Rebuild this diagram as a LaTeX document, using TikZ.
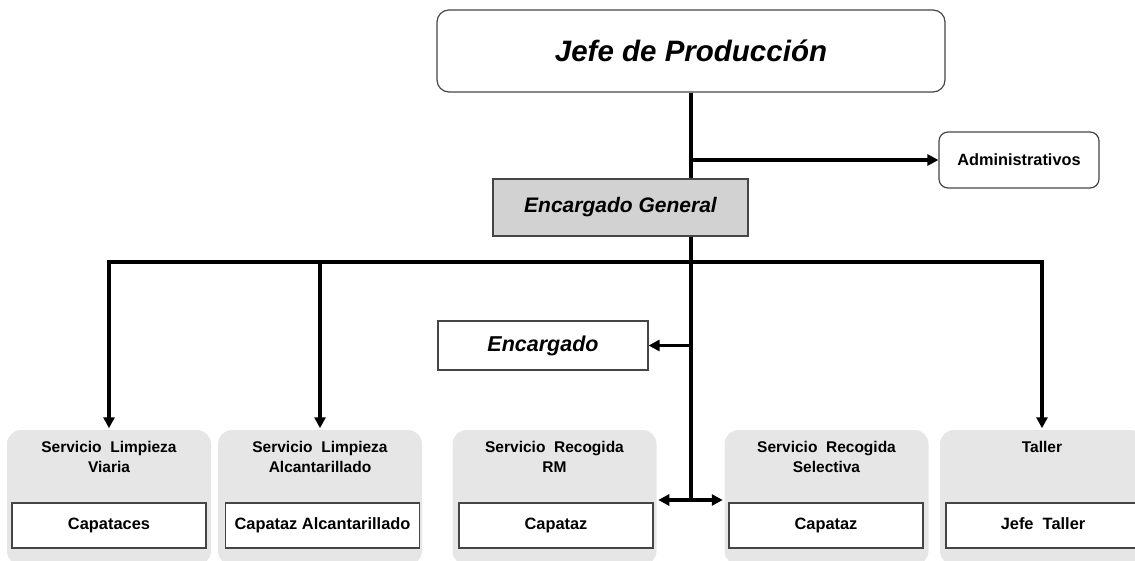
\documentclass[tikz,border=0pt]{standalone}
\usepackage{fontspec}
\setmainfont{Liberation Sans}
\usetikzlibrary{arrows.meta}
\definecolor{boxgray}{HTML}{D2D2D2}
\definecolor{groupgray}{HTML}{E6E6E6}
\definecolor{edgegray}{HTML}{454545}
\begin{document}
\begin{tikzpicture}[x=1pt,y=-1pt,line width=3.5pt,>={Triangle[length=11pt,width=11pt]},
headblock/.style={draw=edgegray,line width=1.2pt,rounded corners=12pt,inner sep=0pt,minimum width=508pt,minimum height=82pt,font=\fontsize{29.5}{34}\selectfont\bfseries\itshape},
adminblock/.style={draw=edgegray,line width=1.2pt,rounded corners=9pt,inner sep=0pt,minimum width=160pt,minimum height=56pt,font=\fontsize{16.3}{19}\selectfont\bfseries},
genblock/.style={draw=edgegray,fill=boxgray,line width=1.2pt,inner sep=0pt,minimum width=255pt,minimum height=57pt,font=\fontsize{21}{24}\selectfont\bfseries\itshape},
encblock/.style={draw=edgegray,line width=1.2pt,inner sep=0pt,minimum width=210pt,minimum height=49pt,font=\fontsize{21.5}{24}\selectfont\bfseries\itshape},
groupblock/.style={fill=groupgray,rounded corners=14pt,inner sep=0pt,minimum width=204pt,minimum height=135pt},
titletext/.style={anchor=north,align=center,inner sep=0pt,font=\fontsize{15.5}{20}\selectfont\bfseries},
capblock/.style={draw=edgegray,fill=white,line width=1.2pt,inner sep=0pt,minimum width=194pt,minimum height=45pt,text height=12pt,text depth=3.5pt,font=\fontsize{16.4}{18}\selectfont\bfseries}]

\useasboundingbox (0,0) rectangle (1135,560);

\draw (691,51) node[headblock] (jefe) {Jefe de Producción};
\draw (1019,160) node[adminblock] (admin) {Administrativos};
\draw (620.5,207.5) node[genblock] (eg) {Encargado General};
\draw (543,345.5) node[encblock] (enc) {Encargado};

\draw (109,497.5) node[groupblock] (g1) {};
\draw (320,497.5) node[groupblock] (g2) {};
\draw (554.5,497.5) node[groupblock] (g3) {};
\draw (826.5,497.5) node[groupblock] (g4) {};
\draw (1042,497.5) node[groupblock] (g5) {};

\draw (109,440) node[titletext] (t1) {Servicio\ \ Limpieza\\Viaria};
\draw (320,440) node[titletext] (t2) {Servicio\ \ Limpieza\\Alcantarillado};
\draw (554.5,440) node[titletext] (t3) {Servicio\ \ Recogida\\RM};
\draw (826.5,440) node[titletext] (t4) {Servicio\ \ Recogida\\Selectiva};
\draw (1042,440) node[titletext] (t5) {Taller};

\draw (109,525.5) node[capblock] (c1) {Capataces};
\draw (322.5,525.5) node[capblock] (c2) {Capataz Alcantarillado};
\draw (556,525.5) node[capblock] (c3) {Capataz};
\draw (826,525.5) node[capblock] (c4) {Capataz};
\draw (1043,525.5) node[capblock] (c5) {Jefe\ \ Taller};

\coordinate (bus) at (691,262);
\coordinate (hub) at (691,500);

\draw (jefe.south) -- (jefe.south |- eg.north);
\draw[->] (jefe.south |- admin.west) -- (admin.west);
\draw (jefe.south |- eg.south) -- (hub);
\draw[->] (bus) -| (g1.north);
\draw[->] (bus) -| (g2.north);
\draw[->] (bus) -| (g5.north);
\draw[->] (jefe.south |- enc.east) -- (enc.east);
\draw[<->] (g3.east |- hub) -- (g4.west |- hub);
\end{tikzpicture}
\end{document}
